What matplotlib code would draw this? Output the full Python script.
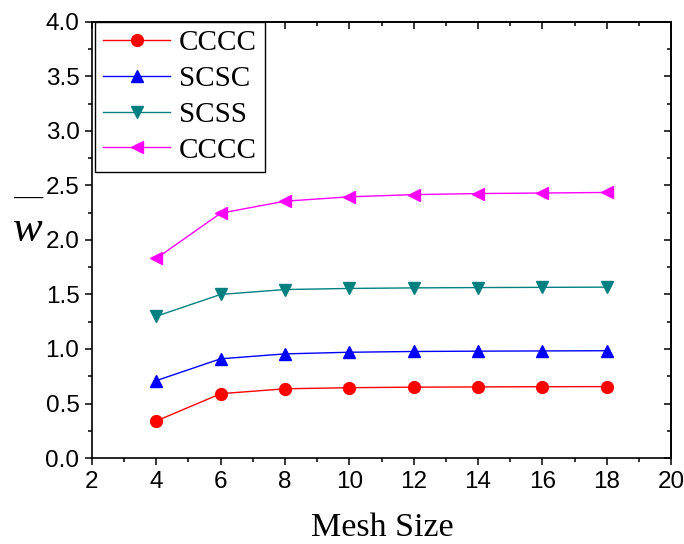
import numpy as np
import matplotlib
matplotlib.use("Agg")
import matplotlib.pyplot as plt
from matplotlib.ticker import MultipleLocator

# 데이터
mesh_size = [4, 6, 8, 10, 12, 14, 16, 18]
cccc_1 = [0.34, 0.59, 0.635, 0.645, 0.65, 0.652, 0.654, 0.655]
scsc   = [0.71, 0.91, 0.955, 0.97, 0.977, 0.98, 0.982, 0.984]
scss   = [1.30, 1.50, 1.545, 1.555, 1.56, 1.563, 1.565, 1.567]
cccc_2 = [1.83, 2.245, 2.355, 2.395, 2.415, 2.425, 2.43, 2.435]

series_labels = ["CCCC", "SCSC", "SCSS", "CCCC"]
series_colors = ["#ff0000", "#0000ff", "#008080", "#ff00ff"]
series_markers = ["o", "^", "v", "<"]

TICK_FONT = "Liberation Sans"
SERIF_FONT = "Liberation Serif"

fig = plt.figure(figsize=(6.84, 5.44), dpi=100)
ax = fig.add_axes([0.1345, 0.158, 0.8465, 0.802])

for ys, lab, col, mk in zip([cccc_1, scsc, scss, cccc_2], series_labels,
                            series_colors, series_markers):
    ax.plot(mesh_size, ys, color=col, marker=mk, markersize=8.5,
            linewidth=1.0, label=lab)

ax.set_xlim(2, 20)
ax.set_ylim(0, 4.0)
ax.xaxis.set_major_locator(MultipleLocator(2))
ax.xaxis.set_minor_locator(MultipleLocator(1))
ax.yaxis.set_major_locator(MultipleLocator(0.5))
ax.yaxis.set_minor_locator(MultipleLocator(0.25))
ax.yaxis.set_major_formatter(matplotlib.ticker.FormatStrFormatter("%.1f"))

for sp in ax.spines.values():
    sp.set_linewidth(1.2)

# 아래/왼쪽: 바깥쪽 눈금
ax.tick_params(which="major", direction="out", length=5, width=1.1,
               labelsize=17.5, pad=4)
ax.tick_params(which="minor", direction="out", length=3, width=1.1)
for t in ax.get_xticklabels() + ax.get_yticklabels():
    t.set_fontfamily(TICK_FONT)

# 위/오른쪽: 안쪽 눈금
top = ax.secondary_xaxis("top")
top.xaxis.set_major_locator(MultipleLocator(2))
top.xaxis.set_minor_locator(MultipleLocator(1))
top.tick_params(which="major", direction="in", length=5, width=1.1, labeltop=False)
top.tick_params(which="minor", direction="in", length=3, width=1.1)
right = ax.secondary_yaxis("right")
right.yaxis.set_major_locator(MultipleLocator(0.5))
right.yaxis.set_minor_locator(MultipleLocator(0.25))
right.tick_params(which="major", direction="in", length=5, width=1.1, labelright=False)
right.tick_params(which="minor", direction="in", length=3, width=1.1)
for s in (top, right):
    for sp in s.spines.values():
        sp.set_linewidth(1.2)

# x축 레이블
fig.text(0.5585, 0.014, "Mesh Size", fontsize=24.5, fontfamily=SERIF_FONT,
         ha="center", va="baseline")

# y축 레이블: 윗줄 있는 이탤릭 w
fig.text(0.04, 0.578, "w", fontsize=32, fontfamily=SERIF_FONT,
         fontstyle="italic", ha="center", va="center")
fig.text(0.041, 0.634, "\u2014", fontsize=21, fontfamily=SERIF_FONT,
         ha="center", va="center")

leg = ax.legend(loc="upper left", bbox_to_anchor=(0.005, 1.0),
                borderaxespad=0.0, fancybox=False, framealpha=1,
                edgecolor="black", handlelength=2.3, handletextpad=0.3,
                labelspacing=0.32, borderpad=0.28,
                prop={"family": SERIF_FONT, "size": 21})
leg.get_frame().set_linewidth(1.0)

plt.savefig("out.png", dpi=100)
plt.close()
